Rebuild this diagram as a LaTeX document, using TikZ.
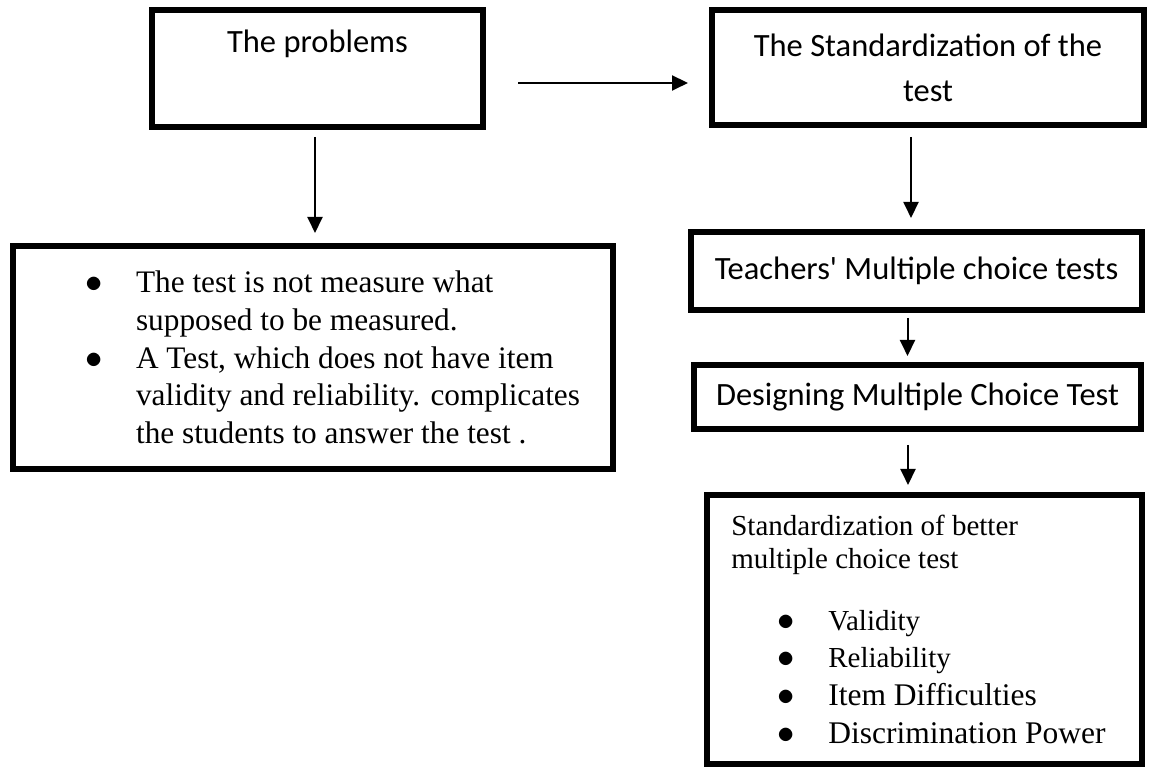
\documentclass[tikz,border=0pt]{standalone}
\usepackage{fontspec}
\setmainfont{Liberation Serif}
\newfontfamily\calibri{Carlito}
\usepackage{tikz}
\usetikzlibrary{arrows.meta, positioning}
\newcommand{\bul}{\makebox[18pt]{\fontsize{16.5pt}{16.5pt}\selectfont$\bullet$}\hspace{12pt}}
\tikzset{
  block/.style={rectangle, draw=black, line width=3pt, align=center, inner sep=0pt,
                font=\calibri\fontsize{16.25pt}{22.5pt}\selectfont},
  listbox/.style={rectangle, draw=black, line width=3pt, align=left, inner sep=0pt},
  arrowline/.style={-{Triangle[length=8pt, width=7.5pt]}, line width=1pt},
}

\begin{document}
\begin{tikzpicture}[x=0.5pt, y=0.5pt]
\useasboundingbox (0,0) rectangle (1149,769);
% left column
\node[block, minimum width=165.5pt, minimum height=58.5pt] (problems) at (317.5,700.5) {The problems\\\rule[-4.5pt]{0pt}{4.5pt}};
\node[listbox, minimum width=300pt, minimum height=111.5pt,
      font=\fontsize{15.65pt}{18.85pt}\selectfont] (issues) at (313,411.5)
  {\hspace*{15pt}\bul The test is not measure what\\
   \hspace*{45pt}supposed to be measured.\\
   \hspace*{15pt}\bul A Test, which does not have item\\
   \hspace*{45pt}validity and reliability. complicates\\
   \hspace*{45pt}the students to answer the test .};
% right column
\node[block, minimum width=216pt, minimum height=57.5pt] (std) at (928,701.5) {The Standardization of the\\test};
\node[block, minimum width=225.5pt, minimum height=39pt] (teach) at (916.5,498) {Teachers\textquotesingle{} Multiple choice tests};
\node[block, minimum width=223.5pt, minimum height=32pt] (design) at (917.5,372) {Designing Multiple Choice Test};
\node[listbox, minimum width=217.5pt, minimum height=134.5pt,
      font=\fontsize{14.5pt}{16.5pt}\selectfont] (better) at (924.5,139.5)
  {Standardization of better\\
   multiple choice test\\[14.5pt]
   \hspace*{18.5pt}\bul Validity\\[2pt]
   \hspace*{18.5pt}\bul Reliability\\[2.5pt]
   \hspace*{18.5pt}\bul{\fontsize{15.75pt}{16.5pt}\selectfont Item Difficulties}\\[2.5pt]
   \hspace*{18.5pt}\bul{\fontsize{15.75pt}{16.5pt}\selectfont Discrimination Power}\hspace*{6pt}};
% arrows
\coordinate (h1) at ([yshift=-7.25pt]problems.east);
\draw[arrowline, shorten <=16pt, shorten >=10.5pt] (h1) -- (h1 -| std.west);
\coordinate (d1) at ([xshift=-1.25pt]problems.south);
\draw[arrowline, shorten <=3.5pt, shorten >=5pt] (d1) -- (d1 |- issues.north);
\coordinate (d2) at ([xshift=-8.5pt]std.south);
\draw[arrowline, shorten <=4.5pt, shorten >=5.5pt] (d2) -- (d2 |- teach.north);
\coordinate (d3) at ([xshift=-4.5pt]teach.south);
\draw[arrowline, shorten <=2.5pt, shorten >=3pt] (d3) -- (d3 |- design.north);
\coordinate (d4) at ([xshift=-4.75pt]design.south);
\draw[arrowline, shorten <=6.5pt, shorten >=3.5pt] (d4) -- (d4 |- better.north);
\end{tikzpicture}
\end{document}
